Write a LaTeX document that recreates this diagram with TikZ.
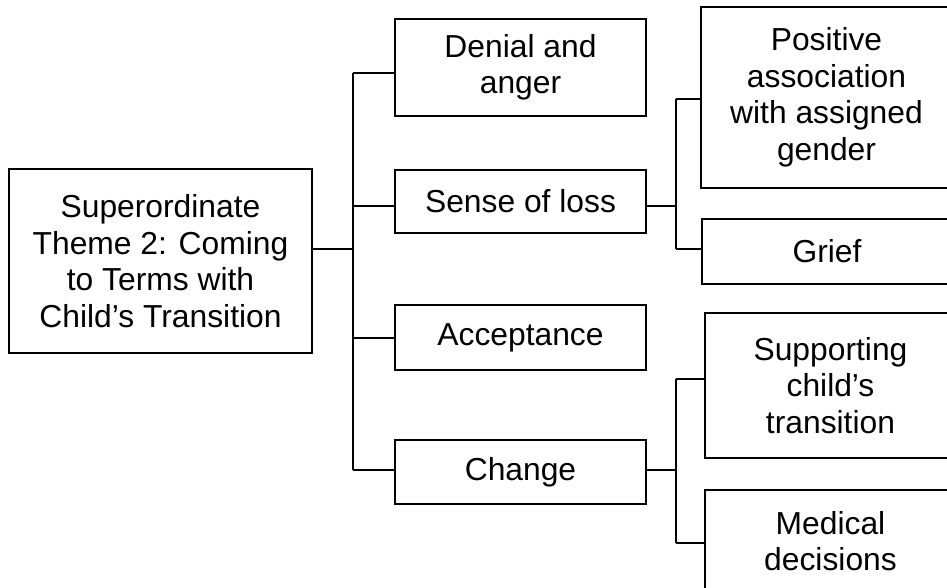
\documentclass[tikz,border=0pt]{standalone}
\usepackage{fontspec}
\setmainfont{Liberation Sans}
\begin{document}
\begin{tikzpicture}[x=1pt,y=-1pt,
  box/.style={draw=black,line width=2.2pt,rectangle,inner sep=0pt,align=center,
    font=\fontsize{31.8}{36.5}\selectfont},
  link/.style={draw=black,line width=1.2pt}]
\useasboundingbox (0,0) rectangle (947,587);
\clip (0,0) rectangle (947,587);
\fill[white] (0,0) rectangle (947,587);
% nodes
\node[box,minimum width=303pt,minimum height=184pt] (root) at (160.5,261) {Superordinate\\Theme 2: Coming\\to Terms with\\Child’s Transition};
\node[box,minimum width=251pt,minimum height=97pt] (denial) at (520.5,67.5) {Denial and\\anger};
\node[box,minimum width=251pt,minimum height=63pt] (sense) at (520.5,201.5) {Sense of loss};
\node[box,minimum width=251pt,minimum height=65pt] (accept) at (520.5,337.5) {Acceptance};
\node[box,minimum width=251pt,minimum height=64pt] (change) at (520.5,472) {Change};
\node[box,minimum width=251pt,minimum height=181pt] (positive) at (826.5,97.5) {Positive\\association\\with assigned\\gender};
\node[box,minimum width=250pt,minimum height=65pt] (grief) at (827,251.5) {Grief};
\node[box,minimum width=251pt,minimum height=145pt] (support) at (830.5,385.5) {Supporting\\child’s\\transition};
\node[box,minimum width=251pt,minimum height=102pt] (medical) at (830.5,541) {Medical\\decisions};
% trunk coordinates
\coordinate (t0) at (353,249);
\coordinate (t1) at (353,73);
\coordinate (t2) at (353,206);
\coordinate (t3) at (353,338);
\coordinate (t4) at (353,470);
\coordinate (s0) at (676,206);
\coordinate (s1) at (676,99);
\coordinate (s2) at (676,249);
\coordinate (c0) at (676,470);
\coordinate (c1) at (676,379);
\coordinate (c2) at (676,543);
% connectors
\draw[link,line width=1.6pt] (root.east |- t0) -- (t0);
\draw[link] (t1) -- (t4);
\draw[link] (t1) -- (denial.west |- t1);
\draw[link] (t2) -- (sense.west |- t2);
\draw[link] (t3) -- (accept.west |- t3);
\draw[link] (t4) -- (change.west |- t4);
\draw[link] (sense.east |- s0) -- (s0);
\draw[link] (s1) -- (s2);
\draw[link] (s1) -- (positive.west |- s1);
\draw[link] (s2) -- (grief.west |- s2);
\draw[link] (change.east |- c0) -- (c0);
\draw[link] (c1) -- (c2);
\draw[link] (c1) -- (support.west |- c1);
\draw[link] (c2) -- (medical.west |- c2);
\end{tikzpicture}
\end{document}
